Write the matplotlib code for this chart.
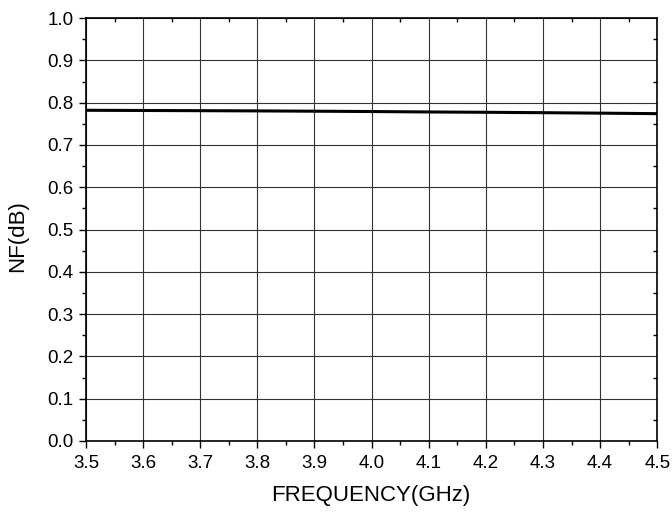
import matplotlib
matplotlib.use("Agg")
import matplotlib.pyplot as plt
from matplotlib.ticker import MultipleLocator

# --- Data ---
freq_ghz = [3.5, 3.6, 3.7, 3.8, 3.9, 4.0, 4.1, 4.2, 4.3, 4.4, 4.5]
nf_db = [0.782, 0.7815, 0.781, 0.7805, 0.7798, 0.779, 0.778, 0.7772, 0.7763, 0.7752, 0.774]

plt.rcParams['font.family'] = ['Liberation Sans', 'DejaVu Sans']

fig = plt.figure(figsize=(6.72, 5.12), dpi=100)
ax = fig.add_axes([0.128, 0.1387, 0.850, 0.826])

ax.plot(freq_ghz, nf_db, color="black", linewidth=2.2, zorder=3)

ax.set_xlim(3.5, 4.5)
ax.set_ylim(0.0, 1.0)
ax.xaxis.set_major_locator(MultipleLocator(0.1))
ax.xaxis.set_minor_locator(MultipleLocator(0.05))
ax.yaxis.set_major_locator(MultipleLocator(0.1))
ax.yaxis.set_minor_locator(MultipleLocator(0.05))
ax.xaxis.set_major_formatter(plt.FormatStrFormatter("%.1f"))
ax.yaxis.set_major_formatter(plt.FormatStrFormatter("%.1f"))

ax.grid(True, which="major", color="#333333", linewidth=0.8)

for sp in ax.spines.values():
    sp.set_linewidth(1.2)

ax.tick_params(which="both", direction="out", top=False, right=False,
               labelsize=13.5, width=1.0)
ax.tick_params(which="major", length=5)
ax.tick_params(which="minor", length=3)
ax.tick_params(axis="x", which="major", pad=5)
ax.tick_params(axis="y", which="major", pad=4)

# inward minor ticks on the top and right edges
ax.tick_params(which="minor", top=True, right=True)
for t in ax.xaxis.get_minor_ticks():
    t.tick2line.set_marker(3)  # TICKDOWN
for t in ax.yaxis.get_minor_ticks():
    t.tick2line.set_marker(0)  # TICKLEFT

# axis titles placed in figure pixels
fig.text(371 / 672, (512 - 496) / 512, "FREQUENCY(GHz)", fontsize=16,
         ha="center", va="center")
fig.text(18 / 672, (512 - 236) / 512, "NF(dB)", fontsize=16,
         ha="center", va="center", rotation=90)

fig.savefig("out.png", dpi=100)
